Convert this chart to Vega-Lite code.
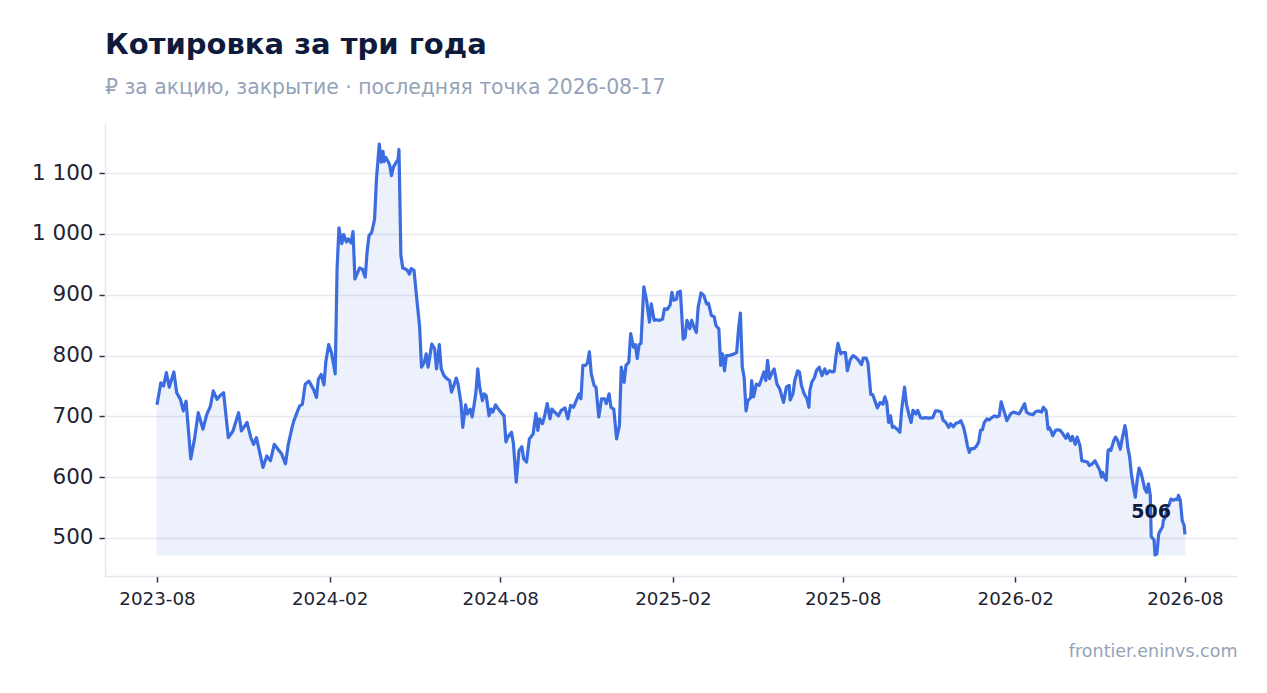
{
  "$schema": "https://vega.github.io/schema/vega-lite/v6.json",
  "autosize": {"type": "none"},
  "padding": {"left": 105, "top": 123, "right": 30, "bottom": 117},
  "width": 1132,
  "height": 453,
  "background": "#ffffff",
  "title": {
    "text": "Котировка за три года",
    "subtitle": "₽ за акцию, закрытие · последняя точка 2026-08-17",
    "anchor": "start",
    "frame": "group",
    "fontSize": 29,
    "fontWeight": "bold",
    "color": "#0f1b3d",
    "subtitleFontSize": 20.4,
    "subtitleColor": "#94a3b8",
    "subtitlePadding": 18,
    "offset": 25
  },
  "data": {
    "values": [
      {"date": "2023-08-17", "close": 719}, {"date": "2023-08-21", "close": 755}, {"date": "2023-08-24", "close": 750},
      {"date": "2023-08-27", "close": 772}, {"date": "2023-08-30", "close": 748}, {"date": "2023-09-04", "close": 773},
      {"date": "2023-09-07", "close": 739}, {"date": "2023-09-11", "close": 728}, {"date": "2023-09-14", "close": 709},
      {"date": "2023-09-17", "close": 725}, {"date": "2023-09-22", "close": 630}, {"date": "2023-09-26", "close": 663},
      {"date": "2023-09-30", "close": 706}, {"date": "2023-10-05", "close": 679}, {"date": "2023-10-09", "close": 703},
      {"date": "2023-10-13", "close": 717}, {"date": "2023-10-16", "close": 742}, {"date": "2023-10-20", "close": 728},
      {"date": "2023-10-23", "close": 734}, {"date": "2023-10-27", "close": 739}, {"date": "2023-11-01", "close": 665},
      {"date": "2023-11-06", "close": 676}, {"date": "2023-11-12", "close": 706}, {"date": "2023-11-15", "close": 676},
      {"date": "2023-11-21", "close": 690}, {"date": "2023-11-25", "close": 665}, {"date": "2023-11-28", "close": 654},
      {"date": "2023-12-01", "close": 665}, {"date": "2023-12-08", "close": 616}, {"date": "2023-12-12", "close": 635},
      {"date": "2023-12-16", "close": 627}, {"date": "2023-12-20", "close": 654}, {"date": "2023-12-24", "close": 646},
      {"date": "2023-12-28", "close": 638}, {"date": "2024-01-01", "close": 622}, {"date": "2024-01-04", "close": 654},
      {"date": "2024-01-08", "close": 682}, {"date": "2024-01-10", "close": 693}, {"date": "2024-01-16", "close": 717},
      {"date": "2024-01-19", "close": 720}, {"date": "2024-01-22", "close": 753}, {"date": "2024-01-26", "close": 758},
      {"date": "2024-01-31", "close": 744}, {"date": "2024-02-03", "close": 731}, {"date": "2024-02-05", "close": 761},
      {"date": "2024-02-08", "close": 769}, {"date": "2024-02-11", "close": 752}, {"date": "2024-02-13", "close": 790},
      {"date": "2024-02-16", "close": 818}, {"date": "2024-02-19", "close": 805}, {"date": "2024-02-23", "close": 770},
      {"date": "2024-02-25", "close": 943}, {"date": "2024-02-27", "close": 1010}, {"date": "2024-03-01", "close": 984},
      {"date": "2024-03-03", "close": 999}, {"date": "2024-03-06", "close": 987}, {"date": "2024-03-08", "close": 992},
      {"date": "2024-03-11", "close": 985}, {"date": "2024-03-13", "close": 1004}, {"date": "2024-03-15", "close": 926},
      {"date": "2024-03-18", "close": 937}, {"date": "2024-03-20", "close": 944}, {"date": "2024-03-23", "close": 942},
      {"date": "2024-03-26", "close": 929}, {"date": "2024-03-28", "close": 970}, {"date": "2024-03-30", "close": 997},
      {"date": "2024-04-02", "close": 1003}, {"date": "2024-04-04", "close": 1017}, {"date": "2024-04-05", "close": 1025},
      {"date": "2024-04-07", "close": 1091}, {"date": "2024-04-10", "close": 1148}, {"date": "2024-04-12", "close": 1118},
      {"date": "2024-04-14", "close": 1136}, {"date": "2024-04-15", "close": 1119}, {"date": "2024-04-17", "close": 1126},
      {"date": "2024-04-20", "close": 1117}, {"date": "2024-04-21", "close": 1114}, {"date": "2024-04-23", "close": 1096},
      {"date": "2024-04-25", "close": 1110}, {"date": "2024-04-28", "close": 1118}, {"date": "2024-04-30", "close": 1122},
      {"date": "2024-05-01", "close": 1139}, {"date": "2024-05-03", "close": 965}, {"date": "2024-05-05", "close": 944},
      {"date": "2024-05-07", "close": 943}, {"date": "2024-05-10", "close": 940}, {"date": "2024-05-12", "close": 934},
      {"date": "2024-05-14", "close": 943}, {"date": "2024-05-17", "close": 940}, {"date": "2024-05-20", "close": 893},
      {"date": "2024-05-23", "close": 847}, {"date": "2024-05-25", "close": 781}, {"date": "2024-05-28", "close": 789},
      {"date": "2024-05-30", "close": 803}, {"date": "2024-06-01", "close": 781}, {"date": "2024-06-03", "close": 800},
      {"date": "2024-06-05", "close": 819}, {"date": "2024-06-08", "close": 811}, {"date": "2024-06-10", "close": 778},
      {"date": "2024-06-13", "close": 818}, {"date": "2024-06-15", "close": 778}, {"date": "2024-06-18", "close": 767},
      {"date": "2024-06-21", "close": 762}, {"date": "2024-06-24", "close": 759}, {"date": "2024-06-26", "close": 740},
      {"date": "2024-06-29", "close": 753}, {"date": "2024-07-01", "close": 763}, {"date": "2024-07-03", "close": 753},
      {"date": "2024-07-06", "close": 723}, {"date": "2024-07-08", "close": 682}, {"date": "2024-07-11", "close": 719},
      {"date": "2024-07-13", "close": 704}, {"date": "2024-07-16", "close": 712}, {"date": "2024-07-18", "close": 699},
      {"date": "2024-07-20", "close": 718}, {"date": "2024-07-22", "close": 740}, {"date": "2024-07-24", "close": 778},
      {"date": "2024-07-26", "close": 748}, {"date": "2024-07-29", "close": 726}, {"date": "2024-07-31", "close": 737},
      {"date": "2024-08-02", "close": 734}, {"date": "2024-08-05", "close": 701}, {"date": "2024-08-07", "close": 712},
      {"date": "2024-08-09", "close": 707}, {"date": "2024-08-12", "close": 719}, {"date": "2024-08-14", "close": 714},
      {"date": "2024-08-17", "close": 708}, {"date": "2024-08-19", "close": 704}, {"date": "2024-08-21", "close": 701},
      {"date": "2024-08-23", "close": 658}, {"date": "2024-08-25", "close": 666}, {"date": "2024-08-29", "close": 674},
      {"date": "2024-08-31", "close": 655}, {"date": "2024-09-03", "close": 592}, {"date": "2024-09-06", "close": 644},
      {"date": "2024-09-09", "close": 650}, {"date": "2024-09-11", "close": 630}, {"date": "2024-09-14", "close": 625},
      {"date": "2024-09-17", "close": 663}, {"date": "2024-09-21", "close": 671}, {"date": "2024-09-24", "close": 705},
      {"date": "2024-09-26", "close": 677}, {"date": "2024-09-28", "close": 696}, {"date": "2024-10-01", "close": 688},
      {"date": "2024-10-03", "close": 699}, {"date": "2024-10-06", "close": 721}, {"date": "2024-10-09", "close": 696},
      {"date": "2024-10-11", "close": 712}, {"date": "2024-10-14", "close": 707}, {"date": "2024-10-18", "close": 701},
      {"date": "2024-10-21", "close": 710}, {"date": "2024-10-25", "close": 714}, {"date": "2024-10-28", "close": 696},
      {"date": "2024-10-31", "close": 718}, {"date": "2024-11-03", "close": 715}, {"date": "2024-11-06", "close": 726},
      {"date": "2024-11-09", "close": 737}, {"date": "2024-11-11", "close": 729}, {"date": "2024-11-13", "close": 784},
      {"date": "2024-11-16", "close": 784}, {"date": "2024-11-18", "close": 788}, {"date": "2024-11-20", "close": 806},
      {"date": "2024-11-22", "close": 770}, {"date": "2024-11-25", "close": 751}, {"date": "2024-11-27", "close": 748},
      {"date": "2024-11-30", "close": 699}, {"date": "2024-12-03", "close": 729}, {"date": "2024-12-06", "close": 729},
      {"date": "2024-12-08", "close": 721}, {"date": "2024-12-11", "close": 737}, {"date": "2024-12-13", "close": 715},
      {"date": "2024-12-16", "close": 712}, {"date": "2024-12-19", "close": 663}, {"date": "2024-12-22", "close": 685},
      {"date": "2024-12-24", "close": 781}, {"date": "2024-12-27", "close": 756}, {"date": "2024-12-29", "close": 784},
      {"date": "2025-01-01", "close": 789}, {"date": "2025-01-03", "close": 836}, {"date": "2025-01-06", "close": 814},
      {"date": "2025-01-08", "close": 818}, {"date": "2025-01-10", "close": 795}, {"date": "2025-01-12", "close": 818},
      {"date": "2025-01-14", "close": 820}, {"date": "2025-01-17", "close": 913}, {"date": "2025-01-20", "close": 891},
      {"date": "2025-01-23", "close": 855}, {"date": "2025-01-25", "close": 885}, {"date": "2025-01-28", "close": 858},
      {"date": "2025-01-30", "close": 859}, {"date": "2025-02-03", "close": 858}, {"date": "2025-02-06", "close": 860},
      {"date": "2025-02-08", "close": 877}, {"date": "2025-02-11", "close": 876}, {"date": "2025-02-14", "close": 883},
      {"date": "2025-02-16", "close": 904}, {"date": "2025-02-18", "close": 891}, {"date": "2025-02-21", "close": 893},
      {"date": "2025-02-22", "close": 904}, {"date": "2025-02-25", "close": 906}, {"date": "2025-02-28", "close": 827},
      {"date": "2025-03-02", "close": 830}, {"date": "2025-03-04", "close": 858}, {"date": "2025-03-07", "close": 844},
      {"date": "2025-03-09", "close": 858}, {"date": "2025-03-11", "close": 849}, {"date": "2025-03-14", "close": 838},
      {"date": "2025-03-16", "close": 880}, {"date": "2025-03-19", "close": 903}, {"date": "2025-03-22", "close": 899},
      {"date": "2025-03-25", "close": 885}, {"date": "2025-03-27", "close": 886}, {"date": "2025-03-30", "close": 866},
      {"date": "2025-04-02", "close": 864}, {"date": "2025-04-04", "close": 849}, {"date": "2025-04-07", "close": 844},
      {"date": "2025-04-09", "close": 784}, {"date": "2025-04-11", "close": 803}, {"date": "2025-04-13", "close": 775},
      {"date": "2025-04-15", "close": 800}, {"date": "2025-04-18", "close": 800}, {"date": "2025-04-22", "close": 802},
      {"date": "2025-04-26", "close": 805}, {"date": "2025-04-28", "close": 844}, {"date": "2025-04-30", "close": 870},
      {"date": "2025-05-02", "close": 781}, {"date": "2025-05-04", "close": 764}, {"date": "2025-05-06", "close": 709},
      {"date": "2025-05-08", "close": 726}, {"date": "2025-05-11", "close": 731}, {"date": "2025-05-12", "close": 759},
      {"date": "2025-05-14", "close": 732}, {"date": "2025-05-17", "close": 753}, {"date": "2025-05-20", "close": 751},
      {"date": "2025-05-22", "close": 759}, {"date": "2025-05-25", "close": 773}, {"date": "2025-05-27", "close": 759},
      {"date": "2025-05-29", "close": 792}, {"date": "2025-05-31", "close": 762}, {"date": "2025-06-03", "close": 773},
      {"date": "2025-06-05", "close": 778}, {"date": "2025-06-08", "close": 753}, {"date": "2025-06-11", "close": 745},
      {"date": "2025-06-13", "close": 734}, {"date": "2025-06-15", "close": 723}, {"date": "2025-06-18", "close": 748},
      {"date": "2025-06-21", "close": 751}, {"date": "2025-06-22", "close": 727}, {"date": "2025-06-25", "close": 737},
      {"date": "2025-06-27", "close": 759}, {"date": "2025-06-30", "close": 775}, {"date": "2025-07-02", "close": 773},
      {"date": "2025-07-04", "close": 751}, {"date": "2025-07-07", "close": 737}, {"date": "2025-07-10", "close": 729},
      {"date": "2025-07-12", "close": 715}, {"date": "2025-07-13", "close": 742}, {"date": "2025-07-15", "close": 756},
      {"date": "2025-07-18", "close": 764}, {"date": "2025-07-20", "close": 775}, {"date": "2025-07-23", "close": 781},
      {"date": "2025-07-26", "close": 767}, {"date": "2025-07-29", "close": 778}, {"date": "2025-07-31", "close": 770},
      {"date": "2025-08-03", "close": 775}, {"date": "2025-08-06", "close": 773}, {"date": "2025-08-08", "close": 774},
      {"date": "2025-08-10", "close": 800}, {"date": "2025-08-12", "close": 820}, {"date": "2025-08-15", "close": 803},
      {"date": "2025-08-17", "close": 805}, {"date": "2025-08-20", "close": 805}, {"date": "2025-08-22", "close": 775},
      {"date": "2025-08-25", "close": 793}, {"date": "2025-08-28", "close": 800}, {"date": "2025-08-31", "close": 797},
      {"date": "2025-09-03", "close": 792}, {"date": "2025-09-06", "close": 785}, {"date": "2025-09-08", "close": 796},
      {"date": "2025-09-11", "close": 796}, {"date": "2025-09-13", "close": 788}, {"date": "2025-09-16", "close": 736},
      {"date": "2025-09-18", "close": 736}, {"date": "2025-09-21", "close": 723}, {"date": "2025-09-23", "close": 714},
      {"date": "2025-09-26", "close": 723}, {"date": "2025-09-29", "close": 720}, {"date": "2025-10-01", "close": 732},
      {"date": "2025-10-03", "close": 723}, {"date": "2025-10-05", "close": 690}, {"date": "2025-10-07", "close": 701},
      {"date": "2025-10-09", "close": 682}, {"date": "2025-10-11", "close": 683}, {"date": "2025-10-14", "close": 679},
      {"date": "2025-10-17", "close": 674}, {"date": "2025-10-19", "close": 712}, {"date": "2025-10-22", "close": 748},
      {"date": "2025-10-24", "close": 720}, {"date": "2025-10-27", "close": 701}, {"date": "2025-10-29", "close": 690},
      {"date": "2025-10-31", "close": 710}, {"date": "2025-11-03", "close": 704}, {"date": "2025-11-05", "close": 710},
      {"date": "2025-11-08", "close": 698}, {"date": "2025-11-10", "close": 697}, {"date": "2025-11-14", "close": 698},
      {"date": "2025-11-17", "close": 697}, {"date": "2025-11-21", "close": 698}, {"date": "2025-11-24", "close": 709},
      {"date": "2025-11-27", "close": 709}, {"date": "2025-11-30", "close": 707}, {"date": "2025-12-02", "close": 694},
      {"date": "2025-12-05", "close": 690}, {"date": "2025-12-08", "close": 682}, {"date": "2025-12-10", "close": 688},
      {"date": "2025-12-13", "close": 683}, {"date": "2025-12-16", "close": 689}, {"date": "2025-12-19", "close": 690},
      {"date": "2025-12-21", "close": 693}, {"date": "2025-12-24", "close": 682}, {"date": "2025-12-26", "close": 668},
      {"date": "2025-12-28", "close": 652}, {"date": "2025-12-30", "close": 641}, {"date": "2026-01-01", "close": 647},
      {"date": "2026-01-04", "close": 647}, {"date": "2026-01-07", "close": 652}, {"date": "2026-01-09", "close": 658},
      {"date": "2026-01-11", "close": 677}, {"date": "2026-01-13", "close": 678}, {"date": "2026-01-15", "close": 690},
      {"date": "2026-01-18", "close": 696}, {"date": "2026-01-20", "close": 694}, {"date": "2026-01-23", "close": 698},
      {"date": "2026-01-26", "close": 701}, {"date": "2026-01-28", "close": 699}, {"date": "2026-01-31", "close": 701},
      {"date": "2026-02-02", "close": 724}, {"date": "2026-02-04", "close": 714}, {"date": "2026-02-06", "close": 704},
      {"date": "2026-02-08", "close": 693}, {"date": "2026-02-12", "close": 704}, {"date": "2026-02-15", "close": 707},
      {"date": "2026-02-19", "close": 705}, {"date": "2026-02-21", "close": 704}, {"date": "2026-02-24", "close": 712},
      {"date": "2026-02-27", "close": 721}, {"date": "2026-03-01", "close": 707}, {"date": "2026-03-04", "close": 704},
      {"date": "2026-03-08", "close": 703}, {"date": "2026-03-11", "close": 708}, {"date": "2026-03-14", "close": 709},
      {"date": "2026-03-17", "close": 707}, {"date": "2026-03-19", "close": 715}, {"date": "2026-03-22", "close": 709},
      {"date": "2026-03-24", "close": 679}, {"date": "2026-03-25", "close": 682}, {"date": "2026-03-27", "close": 677},
      {"date": "2026-03-29", "close": 668}, {"date": "2026-04-01", "close": 677}, {"date": "2026-04-03", "close": 678},
      {"date": "2026-04-06", "close": 677}, {"date": "2026-04-09", "close": 671}, {"date": "2026-04-12", "close": 664},
      {"date": "2026-04-14", "close": 671}, {"date": "2026-04-17", "close": 660}, {"date": "2026-04-19", "close": 667},
      {"date": "2026-04-22", "close": 654}, {"date": "2026-04-24", "close": 666}, {"date": "2026-04-27", "close": 652},
      {"date": "2026-04-29", "close": 627}, {"date": "2026-05-02", "close": 626}, {"date": "2026-05-05", "close": 625},
      {"date": "2026-05-07", "close": 619}, {"date": "2026-05-10", "close": 622}, {"date": "2026-05-13", "close": 627},
      {"date": "2026-05-15", "close": 621}, {"date": "2026-05-18", "close": 612}, {"date": "2026-05-20", "close": 600},
      {"date": "2026-05-21", "close": 608}, {"date": "2026-05-23", "close": 600}, {"date": "2026-05-25", "close": 595},
      {"date": "2026-05-27", "close": 644}, {"date": "2026-05-29", "close": 646}, {"date": "2026-05-30", "close": 644},
      {"date": "2026-06-02", "close": 660}, {"date": "2026-06-04", "close": 666}, {"date": "2026-06-06", "close": 661},
      {"date": "2026-06-09", "close": 646}, {"date": "2026-06-11", "close": 663}, {"date": "2026-06-14", "close": 685},
      {"date": "2026-06-15", "close": 677}, {"date": "2026-06-17", "close": 649}, {"date": "2026-06-19", "close": 633},
      {"date": "2026-06-21", "close": 603}, {"date": "2026-06-23", "close": 584}, {"date": "2026-06-25", "close": 567},
      {"date": "2026-06-27", "close": 595}, {"date": "2026-06-29", "close": 615}, {"date": "2026-07-01", "close": 608},
      {"date": "2026-07-03", "close": 595}, {"date": "2026-07-05", "close": 581}, {"date": "2026-07-07", "close": 575},
      {"date": "2026-07-09", "close": 589}, {"date": "2026-07-11", "close": 570}, {"date": "2026-07-12", "close": 502},
      {"date": "2026-07-15", "close": 497}, {"date": "2026-07-16", "close": 472}, {"date": "2026-07-18", "close": 474},
      {"date": "2026-07-20", "close": 507}, {"date": "2026-07-22", "close": 513}, {"date": "2026-07-24", "close": 518},
      {"date": "2026-07-25", "close": 529}, {"date": "2026-07-27", "close": 534}, {"date": "2026-07-29", "close": 551},
      {"date": "2026-07-31", "close": 554}, {"date": "2026-08-02", "close": 564}, {"date": "2026-08-05", "close": 562},
      {"date": "2026-08-07", "close": 564}, {"date": "2026-08-09", "close": 563}, {"date": "2026-08-10", "close": 570},
      {"date": "2026-08-12", "close": 562}, {"date": "2026-08-14", "close": 529}, {"date": "2026-08-16", "close": 521},
      {"date": "2026-08-17", "close": 506}
    ]
  },
  "encoding": {
    "x": {
      "field": "date",
      "type": "temporal",
      "scale": {"type": "utc", "padding": 52, "nice": false},
      "axis": {
        "title": "frontier.eninvs.com",
        "titleAnchor": "end",
        "titleAlign": "right",
        "titleFontSize": 17.5,
        "titleFontWeight": "normal",
        "titleColor": "#94a3b8",
        "titlePadding": 35,
        "format": "%Y-%m",
        "grid": false,
        "values": [
          {"year": 2023, "month": 8, "date": 17, "utc": true},
          {"year": 2024, "month": 2, "date": 17, "utc": true},
          {"year": 2024, "month": 8, "date": 17, "utc": true},
          {"year": 2025, "month": 2, "date": 17, "utc": true},
          {"year": 2025, "month": 8, "date": 17, "utc": true},
          {"year": 2026, "month": 2, "date": 17, "utc": true},
          {"year": 2026, "month": 8, "date": 17, "utc": true}
        ],
        "labelFontSize": 18.3,
        "labelPadding": 8
      }
    },
    "y": {
      "field": "close",
      "type": "quantitative",
      "scale": {"zero": false, "nice": false, "padding": 21},
      "axis": {
        "title": null,
        "values": [500, 600, 700, 800, 900, 1000, 1100],
        "labelExpr": "replace(format(datum.value, ','), ',', ' ')",
        "labelFontSize": 21.5,
        "labelPadding": 6,
        "grid": true
      }
    }
  },
  "layer": [
    {
      "transform": [{"joinaggregate": [{"op": "min", "field": "close", "as": "low"}]}],
      "mark": {"type": "area", "color": "#3b6ce0", "opacity": 0.09, "stroke": "#3b6ce0", "strokeWidth": 1.5, "strokeOpacity": 0.6},
      "encoding": {"y2": {"field": "low"}}
    },
    {
      "mark": {"type": "line", "color": "#3b6ce0", "strokeWidth": 3.2, "strokeJoin": "round"}
    },
    {
      "transform": [
        {"joinaggregate": [{"op": "max", "field": "date", "as": "last"}]},
        {"filter": "datum.date >= datum.last"}
      ],
      "mark": {"type": "text", "align": "right", "baseline": "alphabetic", "dx": -14, "dy": -16, "fontSize": 19, "fontWeight": "bold", "color": "#0f1b3d"},
      "encoding": {"text": {"field": "close", "type": "quantitative", "format": "d"}}
    }
  ],
  "config": {
    "font": "DejaVu Sans",
    "view": {"stroke": null},
    "axis": {
      "domainColor": "#e2e8f0",
      "domainWidth": 1.5,
      "gridColor": "#e5e9f0",
      "gridWidth": 1.5,
      "tickColor": "#2d3344",
      "tickSize": 6,
      "tickWidth": 1.5,
      "labelColor": "#1e2433"
    }
  }
}
